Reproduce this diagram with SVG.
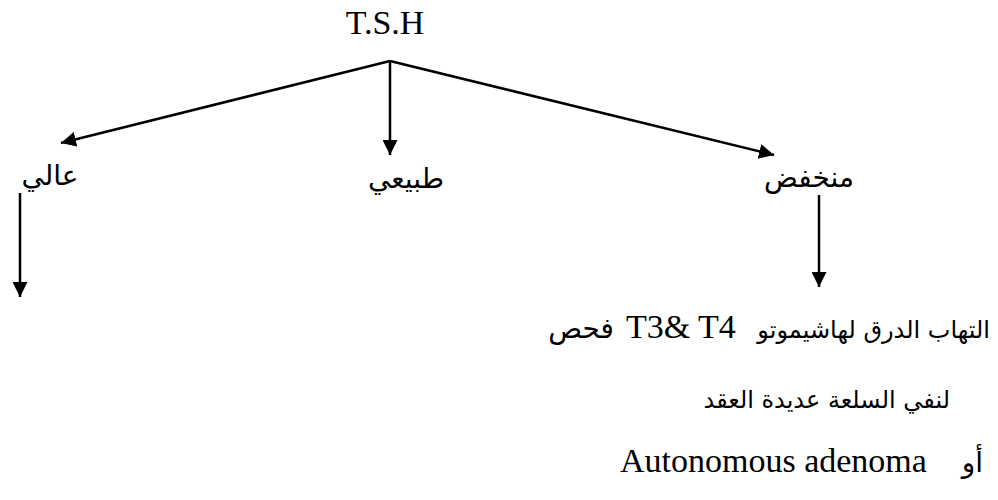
<svg xmlns="http://www.w3.org/2000/svg" width="998" height="500" viewBox="0 0 998 500">
<style>
.lat{font-family:"Liberation Serif","Times New Roman",serif;font-size:34px;fill:#000}
.ar{font-family:"DejaVu Sans","Noto Sans",sans-serif;font-size:28px;fill:#000}
.ar2{font-family:"DejaVu Sans","Noto Sans",sans-serif;font-size:24px;fill:#000}
.ln{stroke:#000;stroke-width:2.5;fill:none}
</style>
<defs>
<marker id="ah" viewBox="0 0 10 10" refX="10" refY="5" markerWidth="6" markerHeight="6" markerUnits="strokeWidth" orient="auto">
<path d="M0,0 L10,5 L0,10 z" fill="#000"/>
</marker>
</defs>
<g id="tsh"><text class="lat" x="385" y="34" text-anchor="middle" font-size="36">T.S.H</text></g>
<g id="high"><text class="ar" x="50" y="185" text-anchor="middle" direction="rtl">عالي</text></g>
<g id="normal"><text class="ar" x="406" y="188" text-anchor="middle" direction="rtl">طبيعي</text></g>
<g id="low"><text class="ar" x="809" y="187" text-anchor="middle" direction="rtl">منخفض</text></g>
<g id="result">
<text class="ar" x="614" y="338" text-anchor="start" direction="rtl">فحص</text>
<text class="lat" x="626" y="338">T3&amp; T4</text>
<text class="ar2" x="990" y="338" text-anchor="start" direction="rtl">التهاب الدرق لهاشيموتو</text>
<text class="ar2" x="950" y="408" text-anchor="start" direction="rtl">لنفي السلعة عديدة العقد</text>
<text class="lat" x="620" y="472">Autonomous adenoma</text>
<text class="ar" x="983" y="472" text-anchor="start" direction="rtl">أو</text>
</g>
<g id="connectors">
<line class="ln" x1="390" y1="61" x2="61" y2="143" marker-end="url(#ah)"/>
<line class="ln" x1="390" y1="61" x2="390" y2="155" marker-end="url(#ah)"/>
<line class="ln" x1="390" y1="61" x2="774" y2="155" marker-end="url(#ah)"/>
<line class="ln" x1="20" y1="193" x2="20" y2="297" marker-end="url(#ah)"/>
<line class="ln" x1="819" y1="195" x2="819" y2="287" marker-end="url(#ah)"/>
</g>
</svg>
